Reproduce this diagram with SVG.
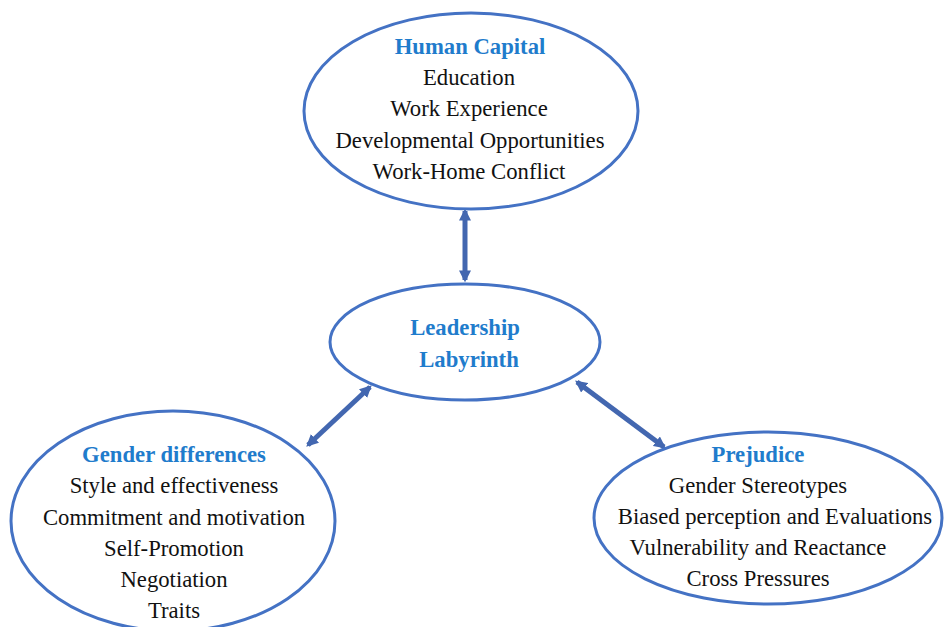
<svg xmlns="http://www.w3.org/2000/svg" width="944" height="627" viewBox="0 0 944 627">
  <style>
    .node { fill: #ffffff; stroke: #4472c4; stroke-width: 3; }
    .title { font-family: 'Liberation Serif', 'Times New Roman', serif; font-size: 22.7px; font-weight: bold; fill: #1f7ccc; text-anchor: middle; }
    .item { font-family: 'Liberation Serif', 'Times New Roman', serif; font-size: 22.7px; fill: #111111; text-anchor: middle; }
    .link { stroke: #4367b0; stroke-width: 5; fill: none; marker-start: url(#head); marker-end: url(#head); }
  </style>
  <defs>
    <marker id="head" viewBox="0 0 10 10" refX="8" refY="5" markerWidth="2.4" markerHeight="2.4" orient="auto-start-reverse">
      <path d="M0,0 L10,5 L0,10 z" fill="#4367b0"/>
    </marker>
  </defs>
  <rect width="944" height="627" fill="#ffffff"/>

  <g id="connectors">
    <line class="link" x1="465" y1="211" x2="465" y2="280"/>
    <line class="link" x1="370" y1="387" x2="308" y2="445"/>
    <line class="link" x1="577" y1="382" x2="664" y2="447"/>
  </g>

  <g id="human-capital">
    <ellipse class="node" cx="471" cy="111" rx="167" ry="98"/>
    <text class="title" x="470" y="54">Human Capital</text>
    <text class="item" x="469" y="85">Education</text>
    <text class="item" x="469" y="116">Work Experience</text>
    <text class="item" x="470" y="148">Developmental Opportunities</text>
    <text class="item" x="469" y="179">Work-Home Conflict</text>
  </g>

  <g id="leadership-labyrinth">
    <ellipse class="node" cx="465" cy="342" rx="135" ry="58"/>
    <text class="title" x="465" y="335">Leadership</text>
    <text class="title" x="469" y="367">Labyrinth</text>
  </g>

  <g id="gender-differences">
    <ellipse class="node" cx="173" cy="521" rx="162" ry="110"/>
    <text class="title" x="174" y="462">Gender differences</text>
    <text class="item" x="174" y="493">Style and effectiveness</text>
    <text class="item" x="174" y="525">Commitment and motivation</text>
    <text class="item" x="174" y="556">Self-Promotion</text>
    <text class="item" x="174" y="587">Negotiation</text>
    <text class="item" x="174" y="618">Traits</text>
  </g>

  <g id="prejudice">
    <ellipse class="node" cx="768" cy="518" rx="174" ry="86"/>
    <text class="title" x="758" y="462">Prejudice</text>
    <text class="item" x="758" y="493">Gender Stereotypes</text>
    <text class="item" x="775" y="524">Biased perception and Evaluations</text>
    <text class="item" x="758" y="555">Vulnerability and Reactance</text>
    <text class="item" x="758" y="586">Cross Pressures</text>
  </g>
</svg>
